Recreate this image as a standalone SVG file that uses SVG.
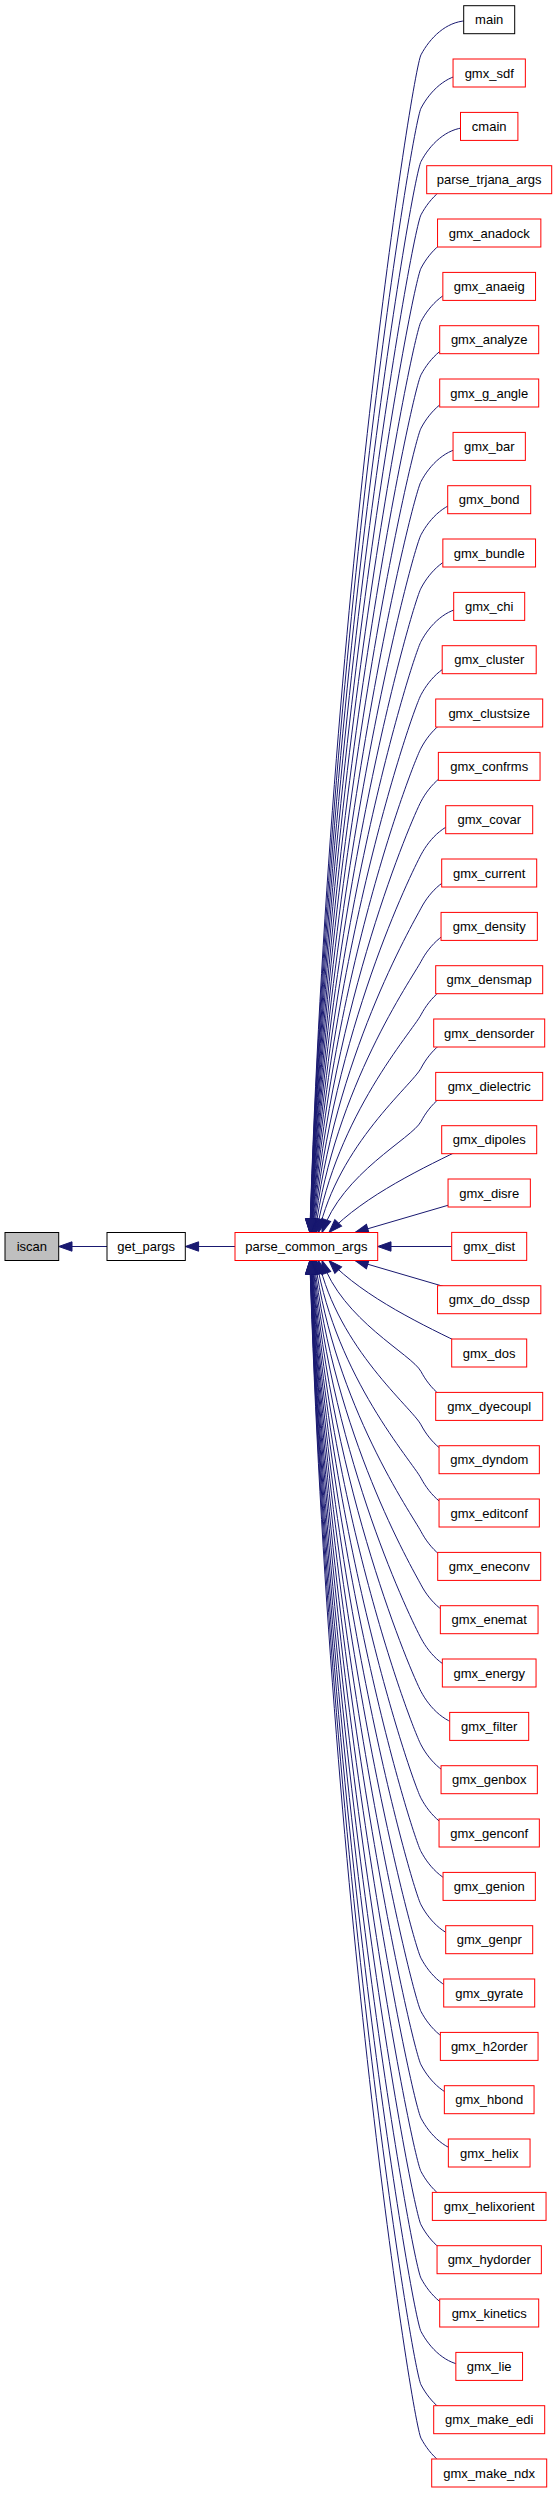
<svg xmlns="http://www.w3.org/2000/svg" width="557" height="2493" viewBox="0 0 557 2493">
<style>
.n rect{fill:#fff;stroke:#ff0000;stroke-width:1}
.k rect{stroke:#000}
.g rect{fill:#bfbfbf;stroke:#000}
text{font-family:"Liberation Sans",Arial,sans-serif;font-size:13px;text-anchor:middle;fill:#000}
#edges path{fill:none;stroke:#191970;stroke-width:1;marker-end:url(#ah)}
</style>
<defs>
<marker id="ah" markerUnits="userSpaceOnUse" markerWidth="14" markerHeight="10" refX="13.3" refY="5" orient="auto" viewBox="0 0 14 10" overflow="visible">
<path d="M0,0.3 L13.3,5 L0,9.7 z" fill="#191970" stroke="#191970" stroke-width="1"/>
</marker>
</defs>
<rect x="0" y="0" width="557" height="2493" fill="#fff"/>
<g id="edges">
<path d="M107,1246.5 L58.7,1246.5"/>
<path d="M235,1246.5 L185.3,1246.5"/>
<path d="M451.7,1246.5 L377.7,1246.5"/>
<path d="M466,1200 L355,1232.5"/>
<path d="M466,1147 C425,1167 365,1195 329,1232.5"/>
<path d="M466,1087.5 C446,1088.5 430,1104.5 421,1121.5 S342,1173 322,1232.5"/>
<path d="M466,1034.2 C446,1035.2 430,1051.2 421,1068.2 S338.5,1144.4 318.5,1232.5"/>
<path d="M466,980.8 C446,981.8 430,997.8 421,1014.8 S336.4,1115.8 316.4,1232.5"/>
<path d="M466,927.5 C446,928.5 430,944.5 421,961.5 S335,1087.2 315,1232.5"/>
<path d="M466,874.2 C446,875.2 430,891.2 421,908.2 S334,1058.6 314,1232.5"/>
<path d="M466,820.8 C446,821.8 430,837.8 421,854.8 S333.3,1030.1 313.3,1232.5"/>
<path d="M466,767.5 C446,768.5 430,784.5 421,801.5 S332.7,1001.5 312.7,1232.5"/>
<path d="M466,714.2 C446,715.2 430,731.2 421,748.2 S332.2,972.9 312.2,1232.5"/>
<path d="M466,660.8 C446,661.8 430,677.8 421,694.8 S331.8,944.3 311.8,1232.5"/>
<path d="M466,607.5 C446,608.5 430,624.5 421,641.5 S331.5,915.7 311.5,1232.5"/>
<path d="M466,554.2 C446,555.2 430,571.2 421,588.2 S331.2,887.1 311.2,1232.5"/>
<path d="M466,500.8 C446,501.8 430,517.8 421,534.8 S331,858.5 311,1232.5"/>
<path d="M466,447.5 C446,448.5 430,464.5 421,481.5 S330.8,830 310.8,1232.5"/>
<path d="M466,394.2 C446,395.2 430,411.2 421,428.2 S330.6,801.4 310.6,1232.5"/>
<path d="M466,340.8 C446,341.8 430,357.8 421,374.8 S330.5,772.8 310.5,1232.5"/>
<path d="M466,287.5 C446,288.5 430,304.5 421,321.5 S330.3,744.2 310.3,1232.5"/>
<path d="M466,234.2 C446,235.2 430,251.2 421,268.2 S330.2,715.6 310.2,1232.5"/>
<path d="M466,180.8 C446,181.8 430,197.8 421,214.8 S330.1,687 310.1,1232.5"/>
<path d="M466,127.5 C446,128.5 430,144.5 421,161.5 S330,658.4 310,1232.5"/>
<path d="M466,74.2 C446,75.2 430,91.2 421,108.2 S329.9,629.8 309.9,1232.5"/>
<path d="M466,20.8 C446,21.8 430,37.8 421,54.8 S329.8,601.3 309.8,1232.5"/>
<path d="M466,1293 L355,1260.5"/>
<path d="M466,1346 C425,1326 365,1298 329,1260.5"/>
<path d="M466,1405.5 C446,1404.5 430,1388.5 421,1371.5 S342,1320 322,1260.5"/>
<path d="M466,1458.8 C446,1457.8 430,1441.8 421,1424.8 S338.5,1348.6 318.5,1260.5"/>
<path d="M466,1512.2 C446,1511.2 430,1495.2 421,1478.2 S336.4,1377.2 316.4,1260.5"/>
<path d="M466,1565.5 C446,1564.5 430,1548.5 421,1531.5 S335,1405.8 315,1260.5"/>
<path d="M466,1618.8 C446,1617.8 430,1601.8 421,1584.8 S334,1434.4 314,1260.5"/>
<path d="M466,1672.2 C446,1671.2 430,1655.2 421,1638.2 S333.3,1462.9 313.3,1260.5"/>
<path d="M466,1725.5 C446,1724.5 430,1708.5 421,1691.5 S332.7,1491.5 312.7,1260.5"/>
<path d="M466,1778.8 C446,1777.8 430,1761.8 421,1744.8 S332.2,1520.1 312.2,1260.5"/>
<path d="M466,1832.2 C446,1831.2 430,1815.2 421,1798.2 S331.8,1548.7 311.8,1260.5"/>
<path d="M466,1885.5 C446,1884.5 430,1868.5 421,1851.5 S331.5,1577.3 311.5,1260.5"/>
<path d="M466,1938.8 C446,1937.8 430,1921.8 421,1904.8 S331.2,1605.9 311.2,1260.5"/>
<path d="M466,1992.2 C446,1991.2 430,1975.2 421,1958.2 S331,1634.5 311,1260.5"/>
<path d="M466,2045.5 C446,2044.5 430,2028.5 421,2011.5 S330.8,1663 310.8,1260.5"/>
<path d="M466,2098.8 C446,2097.8 430,2081.8 421,2064.8 S330.6,1691.6 310.6,1260.5"/>
<path d="M466,2152.2 C446,2151.2 430,2135.2 421,2118.2 S330.5,1720.2 310.5,1260.5"/>
<path d="M466,2205.5 C446,2204.5 430,2188.5 421,2171.5 S330.3,1748.8 310.3,1260.5"/>
<path d="M466,2258.8 C446,2257.8 430,2241.8 421,2224.8 S330.2,1777.4 310.2,1260.5"/>
<path d="M466,2312.2 C446,2311.2 430,2295.2 421,2278.2 S330.1,1806 310.1,1260.5"/>
<path d="M466,2365.5 C446,2364.5 430,2348.5 421,2331.5 S330,1834.6 310,1260.5"/>
<path d="M466,2418.8 C446,2417.8 430,2401.8 421,2384.8 S329.9,1863.2 309.9,1260.5"/>
<path d="M466,2472.2 C446,2471.2 430,2455.2 421,2438.2 S329.8,1891.7 309.8,1260.5"/>
</g>
<g id="nodes">
<g id="iscan" class="n g"><rect x="5" y="1232.5" width="53.7" height="28"/><text x="31.85" y="1251">iscan</text></g>
<g id="get_pargs" class="n k"><rect x="107" y="1232.5" width="78.3" height="28"/><text x="146.15" y="1251">get_pargs</text></g>
<g id="parse_common_args" class="n"><rect x="235" y="1232.5" width="142.7" height="28"/><text x="306.35" y="1251">parse_common_args</text></g>
<g id="main" class="n k"><rect x="463.7" y="5.7" width="51" height="28"/><text x="489.2" y="24.2">main</text></g>
<g id="gmx_sdf" class="n"><rect x="453.05" y="59" width="72.3" height="28"/><text x="489.2" y="77.5">gmx_sdf</text></g>
<g id="cmain" class="n"><rect x="460.5" y="112.4" width="57.4" height="28"/><text x="489.2" y="130.9">cmain</text></g>
<g id="parse_trjana_args" class="n"><rect x="426.7" y="165.7" width="125" height="28"/><text x="489.2" y="184.2">parse_trjana_args</text></g>
<g id="gmx_anadock" class="n"><rect x="437.55" y="219" width="103.3" height="28"/><text x="489.2" y="237.5">gmx_anadock</text></g>
<g id="gmx_anaeig" class="n"><rect x="442.85" y="272.4" width="92.7" height="28"/><text x="489.2" y="290.9">gmx_anaeig</text></g>
<g id="gmx_analyze" class="n"><rect x="439.7" y="325.7" width="99" height="28"/><text x="489.2" y="344.2">gmx_analyze</text></g>
<g id="gmx_g_angle" class="n"><rect x="439.7" y="379" width="99" height="28"/><text x="489.2" y="397.5">gmx_g_angle</text></g>
<g id="gmx_bar" class="n"><rect x="453.05" y="432.4" width="72.3" height="28"/><text x="489.2" y="450.9">gmx_bar</text></g>
<g id="gmx_bond" class="n"><rect x="447.7" y="485.7" width="83" height="28"/><text x="489.2" y="504.2">gmx_bond</text></g>
<g id="gmx_bundle" class="n"><rect x="442.85" y="539" width="92.7" height="28"/><text x="489.2" y="557.5">gmx_bundle</text></g>
<g id="gmx_chi" class="n"><rect x="453.7" y="592.4" width="71" height="28"/><text x="489.2" y="610.9">gmx_chi</text></g>
<g id="gmx_cluster" class="n"><rect x="442.2" y="645.7" width="94" height="28"/><text x="489.2" y="664.2">gmx_cluster</text></g>
<g id="gmx_clustsize" class="n"><rect x="435.7" y="699" width="107" height="28"/><text x="489.2" y="717.5">gmx_clustsize</text></g>
<g id="gmx_confrms" class="n"><rect x="438.35" y="752.4" width="101.7" height="28"/><text x="489.2" y="770.9">gmx_confrms</text></g>
<g id="gmx_covar" class="n"><rect x="445.7" y="805.7" width="87" height="28"/><text x="489.2" y="824.2">gmx_covar</text></g>
<g id="gmx_current" class="n"><rect x="441.7" y="859" width="95" height="28"/><text x="489.2" y="877.5">gmx_current</text></g>
<g id="gmx_density" class="n"><rect x="441.05" y="912.4" width="96.3" height="28"/><text x="489.2" y="930.9">gmx_density</text></g>
<g id="gmx_densmap" class="n"><rect x="435.7" y="965.7" width="107" height="28"/><text x="489.2" y="984.2">gmx_densmap</text></g>
<g id="gmx_densorder" class="n"><rect x="433.7" y="1019" width="111" height="28"/><text x="489.2" y="1037.5">gmx_densorder</text></g>
<g id="gmx_dielectric" class="n"><rect x="435.7" y="1072.4" width="107" height="28"/><text x="489.2" y="1090.9">gmx_dielectric</text></g>
<g id="gmx_dipoles" class="n"><rect x="441.7" y="1125.7" width="95" height="28"/><text x="489.2" y="1144.2">gmx_dipoles</text></g>
<g id="gmx_disre" class="n"><rect x="448.05" y="1179" width="82.3" height="28"/><text x="489.2" y="1197.5">gmx_disre</text></g>
<g id="gmx_dist" class="n"><rect x="451.7" y="1232.4" width="75" height="28"/><text x="489.2" y="1250.9">gmx_dist</text></g>
<g id="gmx_do_dssp" class="n"><rect x="437.55" y="1285.7" width="103.3" height="28"/><text x="489.2" y="1304.2">gmx_do_dssp</text></g>
<g id="gmx_dos" class="n"><rect x="451.7" y="1339" width="75" height="28"/><text x="489.2" y="1357.5">gmx_dos</text></g>
<g id="gmx_dyecoupl" class="n"><rect x="435.7" y="1392.4" width="107" height="28"/><text x="489.2" y="1410.9">gmx_dyecoupl</text></g>
<g id="gmx_dyndom" class="n"><rect x="439.05" y="1445.7" width="100.3" height="28"/><text x="489.2" y="1464.2">gmx_dyndom</text></g>
<g id="gmx_editconf" class="n"><rect x="439.05" y="1499" width="100.3" height="28"/><text x="489.2" y="1517.5">gmx_editconf</text></g>
<g id="gmx_eneconv" class="n"><rect x="437.7" y="1552.4" width="103" height="28"/><text x="489.2" y="1570.9">gmx_eneconv</text></g>
<g id="gmx_enemat" class="n"><rect x="440.35" y="1605.7" width="97.7" height="28"/><text x="489.2" y="1624.2">gmx_enemat</text></g>
<g id="gmx_energy" class="n"><rect x="442.35" y="1659" width="93.7" height="28"/><text x="489.2" y="1677.5">gmx_energy</text></g>
<g id="gmx_filter" class="n"><rect x="449.7" y="1712.4" width="79" height="28"/><text x="489.2" y="1730.9">gmx_filter</text></g>
<g id="gmx_genbox" class="n"><rect x="441.05" y="1765.7" width="96.3" height="28"/><text x="489.2" y="1784.2">gmx_genbox</text></g>
<g id="gmx_genconf" class="n"><rect x="439.05" y="1819" width="100.3" height="28"/><text x="489.2" y="1837.5">gmx_genconf</text></g>
<g id="gmx_genion" class="n"><rect x="443.05" y="1872.4" width="92.3" height="28"/><text x="489.2" y="1890.9">gmx_genion</text></g>
<g id="gmx_genpr" class="n"><rect x="445.7" y="1925.7" width="87" height="28"/><text x="489.2" y="1944.2">gmx_genpr</text></g>
<g id="gmx_gyrate" class="n"><rect x="443.7" y="1979" width="91" height="28"/><text x="489.2" y="1997.5">gmx_gyrate</text></g>
<g id="gmx_h2order" class="n"><rect x="440.35" y="2032.4" width="97.7" height="28"/><text x="489.2" y="2050.9">gmx_h2order</text></g>
<g id="gmx_hbond" class="n"><rect x="444.35" y="2085.7" width="89.7" height="28"/><text x="489.2" y="2104.2">gmx_hbond</text></g>
<g id="gmx_helix" class="n"><rect x="448.35" y="2139" width="81.7" height="28"/><text x="489.2" y="2157.5">gmx_helix</text></g>
<g id="gmx_helixorient" class="n"><rect x="432.35" y="2192.4" width="113.7" height="28"/><text x="489.2" y="2210.9">gmx_helixorient</text></g>
<g id="gmx_hydorder" class="n"><rect x="437.05" y="2245.7" width="104.3" height="28"/><text x="489.2" y="2264.2">gmx_hydorder</text></g>
<g id="gmx_kinetics" class="n"><rect x="439.7" y="2299" width="99" height="28"/><text x="489.2" y="2317.5">gmx_kinetics</text></g>
<g id="gmx_lie" class="n"><rect x="455.85" y="2352.4" width="66.7" height="28"/><text x="489.2" y="2370.9">gmx_lie</text></g>
<g id="gmx_make_edi" class="n"><rect x="433.7" y="2405.7" width="111" height="28"/><text x="489.2" y="2424.2">gmx_make_edi</text></g>
<g id="gmx_make_ndx" class="n"><rect x="431.7" y="2459" width="115" height="28"/><text x="489.2" y="2477.5">gmx_make_ndx</text></g>
</g>
</svg>
